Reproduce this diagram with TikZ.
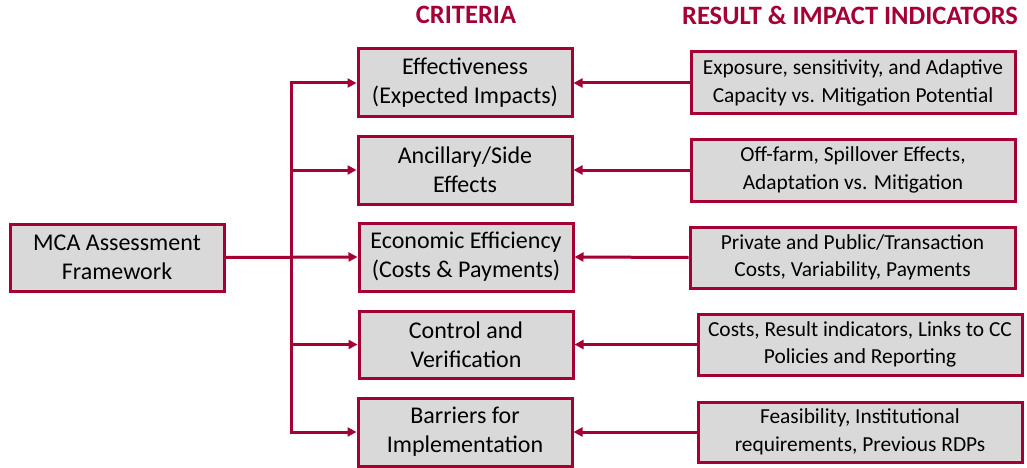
\documentclass[tikz,border=0pt]{standalone}
\usepackage{fontspec}
\setmainfont{Carlito}
\usetikzlibrary{arrows.meta}
\definecolor{wine}{RGB}{165,0,52}
\definecolor{boxgray}{RGB}{217,217,217}
\tikzset{
  box/.style={draw=wine, line width=3pt, fill=boxgray, align=center, inner sep=0pt,
    font=\fontsize{21.4}{27.5}\selectfont, text=black},
  bigbox/.style={box, font=\fontsize{24}{29}\selectfont},
  conn/.style={draw=wine, line width=3pt},
  arr/.style={conn, -{Triangle[length=9pt,width=9pt]}},
  hdr/.style={text=wine, font=\fontsize{26.5}{30}\selectfont\bfseries}
}
\begin{document}
\begin{tikzpicture}[x=1pt,y=-1pt]
\useasboundingbox (0,0) rectangle (1027,468);
% headers
\node[hdr] (h1) at (466,15) {CRITERIA};
\node[hdr] (h2) at (850,15) {RESULT \& IMPACT INDICATORS};
% main
\node[bigbox, minimum width=214pt, minimum height=67pt] (m) at (117,257.5) {MCA Assessment\\Framework};
% criteria
\node[bigbox, minimum width=214pt, minimum height=68pt] (c1) at (465,83) {Effectiveness\\(Expected Impacts)};
\node[bigbox, minimum width=214pt, minimum height=68pt] (c2) at (465,170) {Ancillary/Side\\Effects};
\node[bigbox, minimum width=214pt, minimum height=68pt] (c3) at (466,257) {Economic Efficiency\\(Costs \& Payments)};
\node[bigbox, minimum width=214pt, minimum height=67pt] (c4) at (466,344.5) {Control and\\Verification};
\node[bigbox, minimum width=214pt, minimum height=68pt] (c5) at (465,432) {Barriers for\\Implementation};
% results
\node[box, minimum width=324pt, minimum height=62pt] (r1) at (853,83) {Exposure, sensitivity, and Adaptive\\Capacity vs. Mitigation Potential};
\node[box, minimum width=324pt, minimum height=62pt] (r2) at (853,170) {Off-farm, Spillover Effects,\\Adaptation vs. Mitigation};
\node[box, minimum width=325pt, minimum height=61pt] (r3) at (852.5,257.5) {Private and Public/Transaction\\Costs, Variability, Payments};
\node[box, minimum width=324pt, minimum height=61pt] (r4) at (860,344.5) {Costs, Result indicators, Links to CC\\Policies and Reporting};
\node[box, minimum width=324pt, minimum height=60pt] (r5) at (860,432) {Feasibility, Institutional\\requirements, Previous RDPs};
% trunk coordinates
\coordinate (t1) at (291,83);
\coordinate (t2) at (291,170);
\coordinate (t4) at (291,344.5);
\coordinate (t5) at (291,432);
% connectors
\draw[conn] (t1) -- (t5);
\draw[arr] (t2) -- (t1) -- (c1.west);
\draw[arr] (t2) -- (c2.west);
\draw[arr] (m.east) -- (c3.west);
\draw[arr] (t4) -- (c4.west);
\draw[arr] (t4) -- (t5) -- (c5.west);
\draw[arr] (r1.west) -- (c1.east);
\draw[arr] (r2.west) -- (c2.east);
\draw[arr] (r3.west) -- (c3.east);
\draw[arr] (r4.west) -- (c4.east);
\draw[arr] (r5.west) -- (c5.east);
\end{tikzpicture}
\end{document}
